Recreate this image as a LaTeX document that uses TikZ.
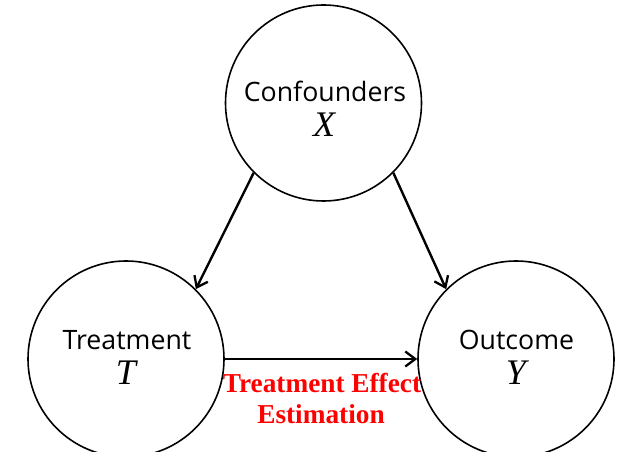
\documentclass[tikz,border=0pt]{standalone}
\usepackage{fontspec}
\setmainfont{Open Sans}
\newfontfamily\varfont{Liberation Serif}
\usetikzlibrary{arrows.meta}
\tikzset{
  ball/.style={circle, draw, line width=1.6pt, minimum size=196pt, inner sep=0pt},
  lab/.style={font=\fontsize{26.7}{30}\selectfont, inner sep=0pt, anchor=base},
  var/.style={font=\varfont\itshape\fontsize{36}{36}\selectfont, inner sep=0pt, anchor=base},
  effect/.style={font=\varfont\bfseries\fontsize{27.3}{32}\selectfont, text=red, inner sep=0pt, anchor=base},
  edge/.style={-{Straight Barb[length=10pt,width=15pt,line width=2.3pt]}, line width=2.4pt}
}
\begin{document}
\begin{tikzpicture}[x=1pt,y=1pt]
  \useasboundingbox (0,0) rectangle (618,452);
  % the three variables
  \node[ball] (X) at (323.5,349) {};
  \node[ball] (T) at (126,93) {};
  \node[ball] (Y) at (516,93) {};
  % labels inside the circles
  \node[lab] (Xname) at (325,350) {Confounders};
  \node[var] (Xsym) at (324,315) {X};
  \node[lab] (Tname) at (127,102) {Treatment};
  \node[var] (Tsym) at (126,67) {T};
  \node[lab] (Yname) at (516.5,102) {Outcome};
  \node[var] (Ysym) at (516,67) {Y};
  % causal edges
  \draw[edge] (X.south west) -- (T.north east);
  \draw[edge] (X.south east) -- (Y.north west);
  \draw[edge] (T.east) -- (Y.west);
  % label of the treatment effect
  \node[effect] (eff1) at (322,59) {Treatment Effect};
  \node[effect] (eff2) at (321,28) {Estimation};
\end{tikzpicture}
\end{document}
